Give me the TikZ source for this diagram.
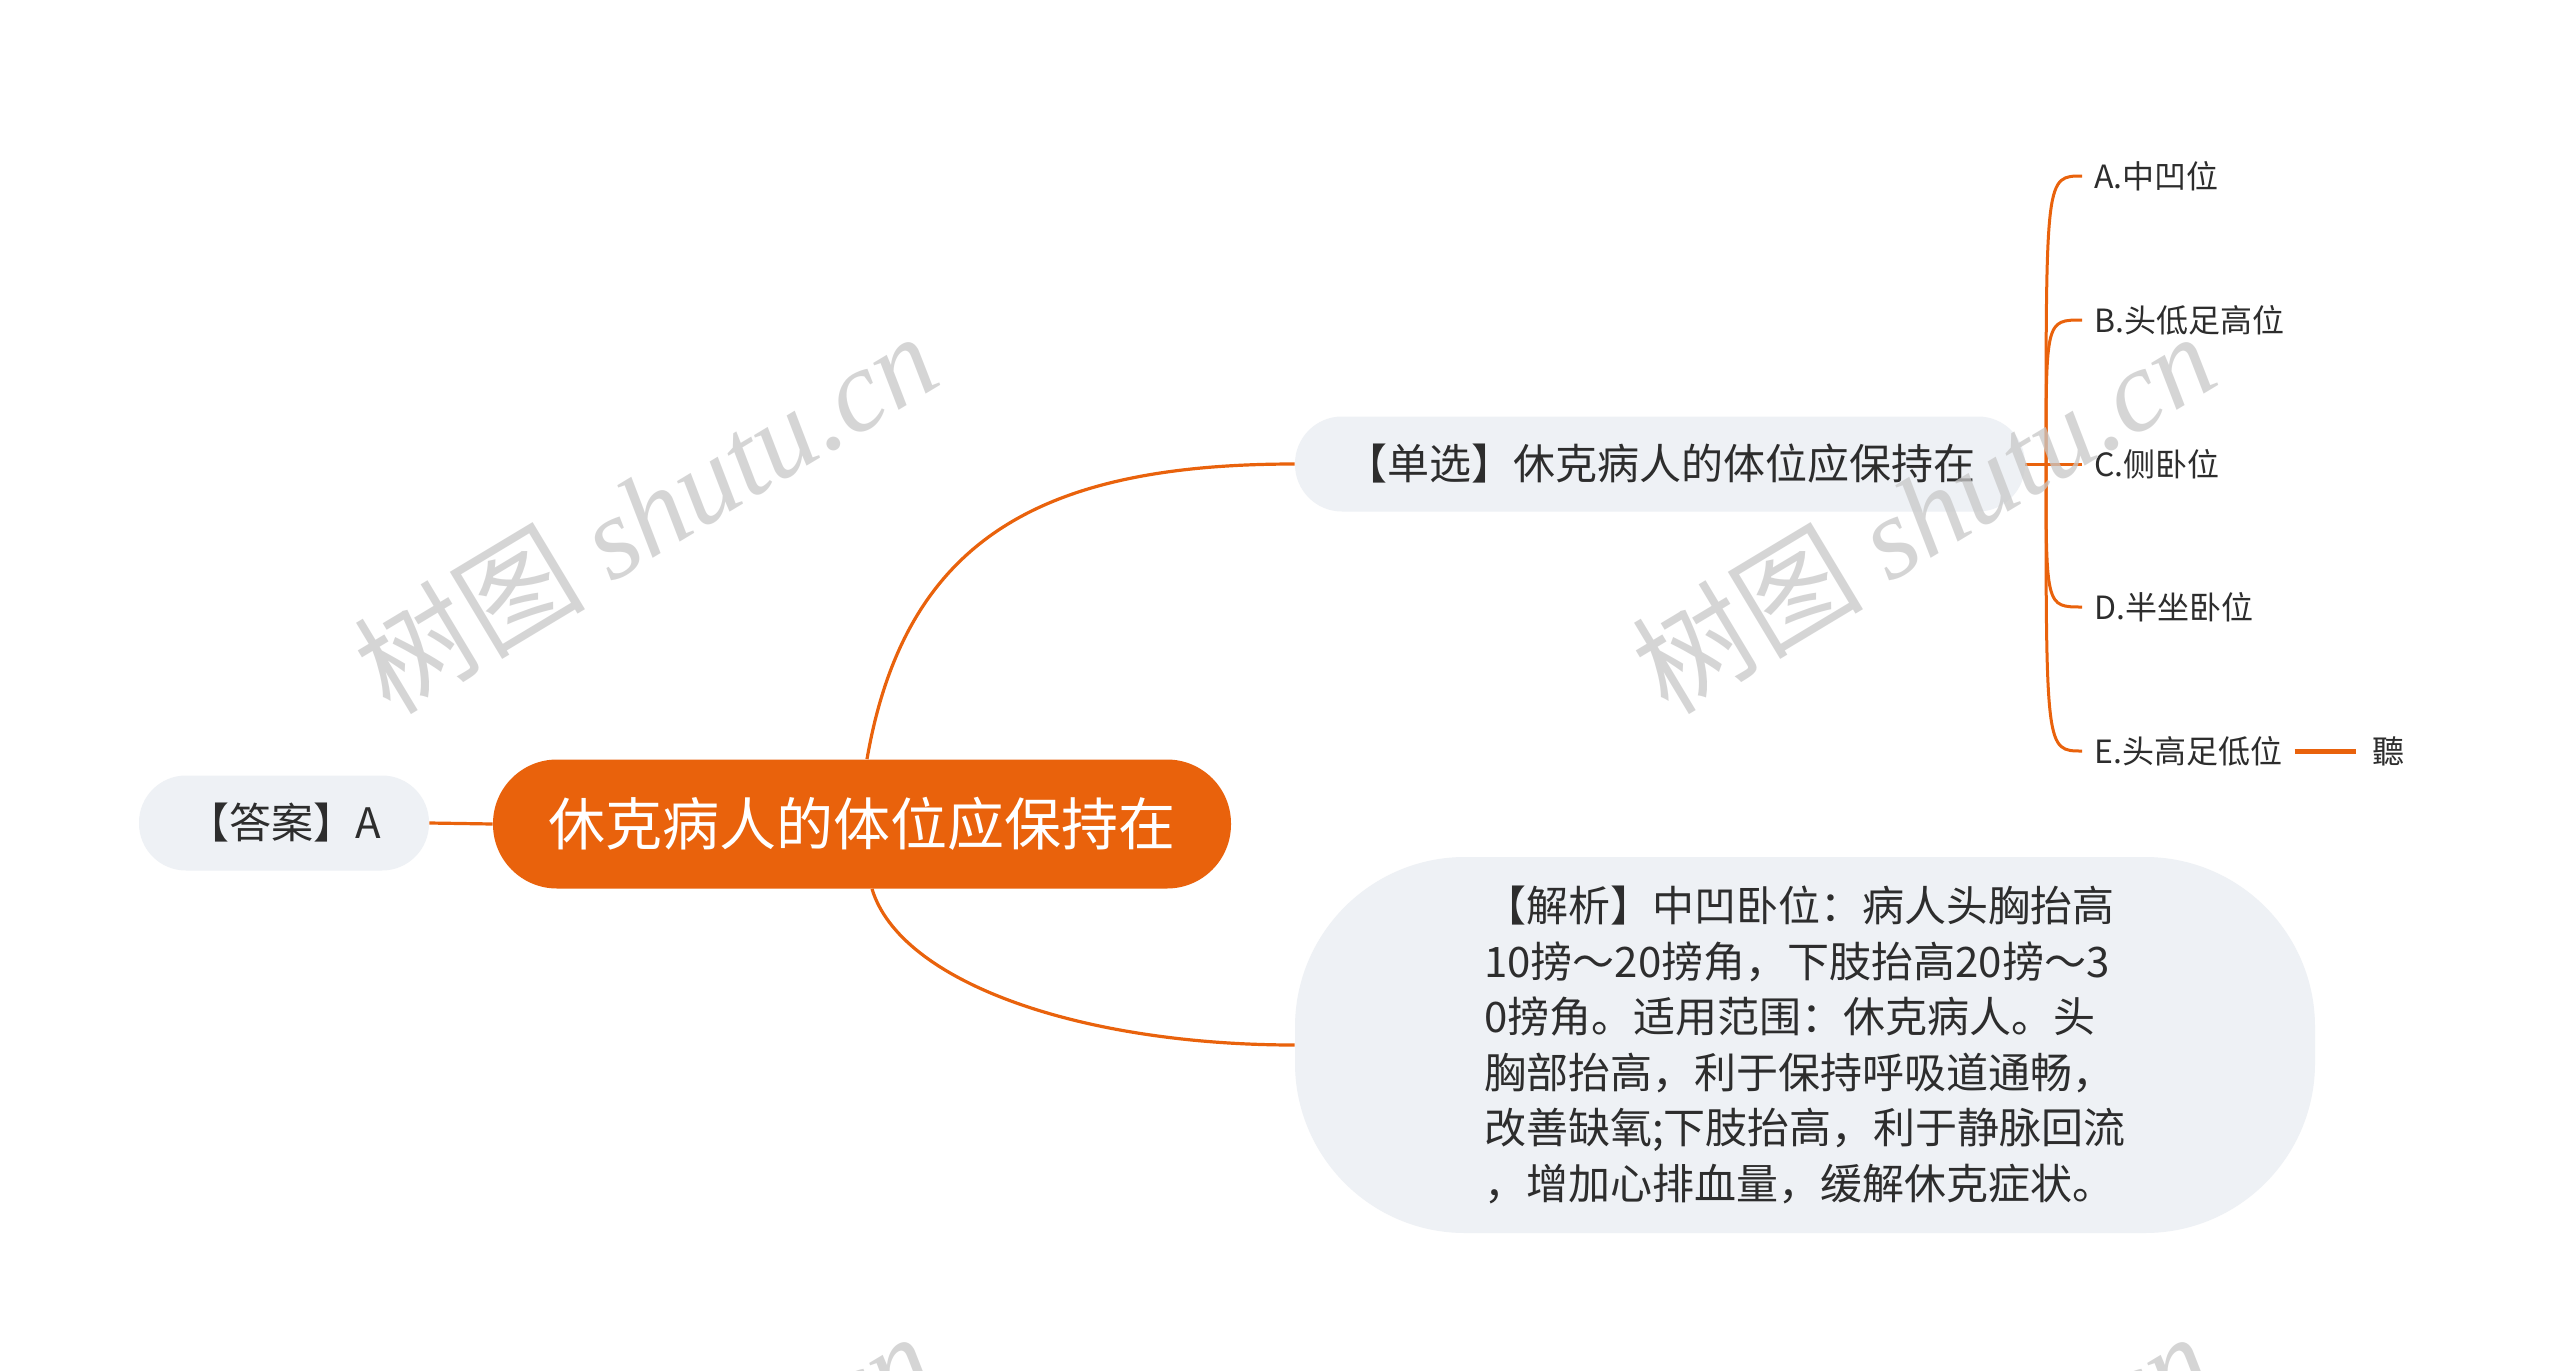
\documentclass[tikz,border=0pt]{standalone}
\usepackage{fontspec}
\usepackage{tikz}
\setmainfont{Noto Sans CJK SC}
\newfontfamily\wmcjk{Noto Sans CJK SC}
\newfontfamily\wmlatin{Liberation Serif}
\definecolor{orng}{RGB}{233,98,12}
\definecolor{pale}{RGB}{238,241,245}
\definecolor{ink}{RGB}{45,45,45}
\definecolor{wmark}{RGB}{200,200,200}

\begin{document}
\begin{tikzpicture}[x=0.5pt,y=-0.5pt,
  root/.style={fill=orng,text=white,rounded corners=32pt,minimum width=369pt,minimum height=64.5pt,font=\fontsize{28.5pt}{34pt}\selectfont},
  topic/.style={fill=pale,text=ink,rounded corners=23.5pt,minimum height=47.5pt,font=\fontsize{21pt}{27.75pt}\selectfont},
  opt/.style={text=ink,anchor=west,inner xsep=6pt,font=\fontsize{16pt}{20pt}\selectfont},
  link/.style={draw=orng,line width=1.6pt},
  wm/.style={text=wmark,opacity=0.75,rotate=31,font=\fontsize{58pt}{60pt}\selectfont}]
\path[use as bounding box,fill=white] (0,0) rectangle (2560,1371);

% centre and the two side topics
\node[root] (q) at (862,824) {休克病人的体位应保持在};
\node[topic,minimum width=145pt] (ans) at (284,823) {【答案】A};
\node[topic,minimum width=365pt] (pick) at (1660,464) {【单选】休克病人的体位应保持在};
\node[topic,minimum width=510pt,minimum height=188pt,rounded corners=85pt,align=left] (why) at (1805,1045)
  {【解析】中凹卧位：病人头胸抬高\\
   10搒～20搒角，下肢抬高20搒～3\\
   0搒角。适用范围：休克病人。头\\
   胸部抬高，利于保持呼吸道通畅，\\
   改善缺氧;下肢抬高，利于静脉回流\\
   ，增加心排血量，缓解休克症状。};

% choices
\node[opt] (oa) at (2082,176) {A.中凹位};
\node[opt] (ob) at (2082,320) {B.头低足高位};
\node[opt] (oc) at (2082,464) {C.侧卧位};
\node[opt] (od) at (2082,607) {D.半坐卧位};
\node[opt] (oe) at (2082,751) {E.头高足低位};
\node[opt,inner xsep=8pt] (ting) at (2356,751) {聽};
\coordinate (fork) at (2046,464);

\draw[link] (ans.east) -- (q.west);
\draw[link] ([xshift=2.5pt]q.north) .. controls +(38,-219) and +(-255,0) .. (pick.west);
\draw[link] ([xshift=5pt]q.south) .. controls +(28,93) and +(-215,0) .. (why.west);
\draw[link,line width=1.5pt] (pick.east) -- (oc.west);
\foreach \o in {oa,ob,od,oe}
  \draw[link,line width=1.5pt] (fork) .. controls (fork |- \o.west) .. (\o.west);
\draw[link,line width=2.5pt] (oe.east) -- (ting.west);

% watermarks
\node[wm] (wm1) at (645,512) {\wmcjk 树图 \wmlatin\itshape shutu.cn};
\node[wm] (wm2) at (1923,512) {\wmcjk 树图 \wmlatin\itshape shutu.cn};
\node[wm] (wm3) at (641,1512) {\wmcjk 树图 \wmlatin\itshape shutu.cn};
\node[wm] (wm4) at (1919,1512) {\wmcjk 树图 \wmlatin\itshape shutu.cn};
\end{tikzpicture}
\end{document}
